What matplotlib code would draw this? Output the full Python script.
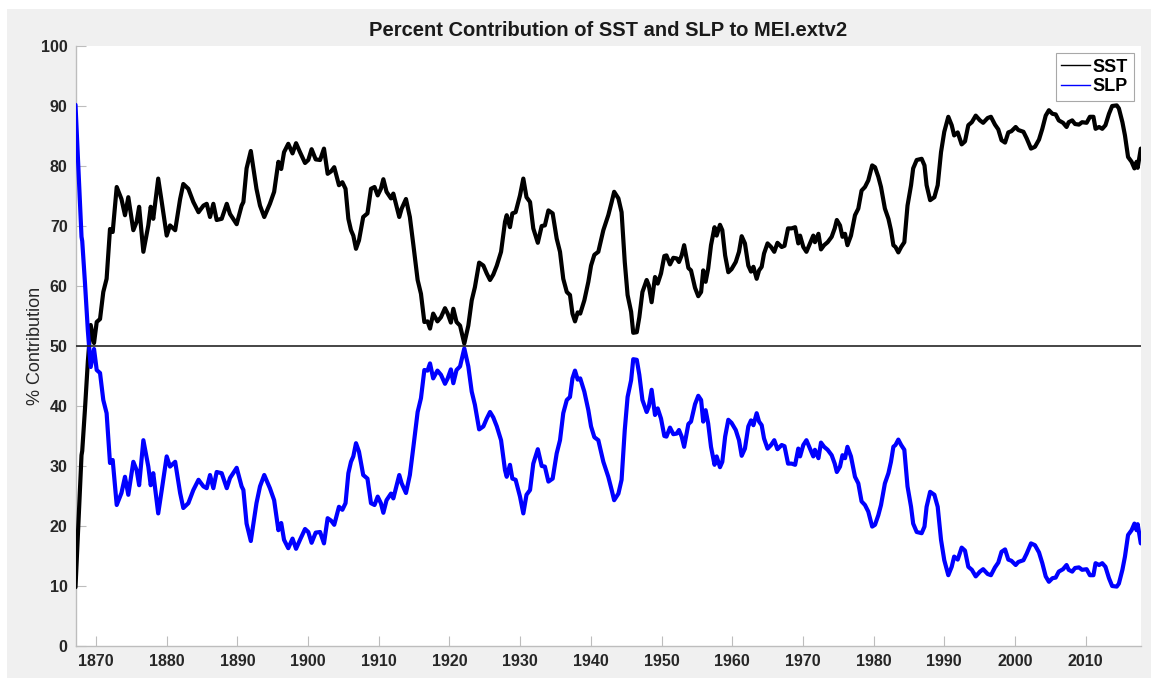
import matplotlib
matplotlib.use('Agg')
import matplotlib.pyplot as plt
from matplotlib.patches import Rectangle
from matplotlib.lines import Line2D

plt.rcParams['font.family'] = ['Liberation Sans', 'DejaVu Sans']

# turning points (year, % contribution)
years = [
    1867.10, 1867.95, 1868.05, 1868.44, 1868.85, 1869.25, 1869.72, 1870.10, 1870.57, 1871.03,
    1871.50, 1871.98, 1872.36, 1872.93, 1873.60, 1874.10, 1874.57, 1875.28, 1875.75, 1876.10,
    1876.70, 1877.40, 1877.74, 1878.10, 1878.80, 1879.30,
    1880.00, 1880.47, 1881.20, 1881.90, 1882.35, 1883.06, 1883.77, 1884.50, 1885.20, 1885.66,
    1886.13, 1886.60, 1887.07, 1887.78, 1888.50, 1888.96, 1889.90,
    1890.60, 1890.85, 1891.30, 1891.90, 1892.70, 1893.20, 1893.80, 1894.60, 1895.20, 1895.80,
    1896.20, 1896.60, 1897.20, 1897.80, 1898.30, 1898.86, 1899.57,
    1900.03, 1900.50, 1901.08, 1901.70, 1902.25, 1902.77, 1903.25, 1903.70, 1904.37, 1904.85,
    1905.30, 1905.70, 1906.07, 1906.40, 1906.78, 1907.20, 1907.80, 1908.40, 1908.90, 1909.40,
    1909.85,
    1910.30, 1910.65, 1911.10, 1911.73, 1912.06, 1912.90, 1913.24, 1913.85, 1914.40, 1914.90,
    1915.50, 1915.97, 1916.45, 1916.90, 1917.25, 1917.70, 1918.30, 1918.80, 1919.37, 1919.75,
    1920.20, 1920.55, 1921.00, 1921.50, 1922.10, 1922.67, 1923.15, 1923.60, 1924.20, 1924.80,
    1925.27, 1925.74, 1926.20, 1926.70, 1927.30, 1927.86, 1928.10, 1928.56, 1928.90, 1929.36,
    1929.98,
    1930.45, 1930.90, 1931.40, 1931.86, 1932.50, 1933.05, 1933.50, 1934.00, 1934.60, 1935.17,
    1935.64, 1936.10, 1936.60, 1937.05, 1937.40, 1937.76, 1938.14, 1938.50, 1939.08, 1939.65,
    1940.03, 1940.50, 1941.06, 1941.77, 1942.47, 1942.95, 1943.30, 1943.90, 1944.35, 1944.80,
    1945.20, 1945.70, 1946.00, 1946.50, 1946.86, 1947.30, 1947.90, 1948.20, 1948.60, 1949.08,
    1949.46, 1949.93,
    1950.40, 1950.70, 1951.20, 1951.67, 1952.14, 1952.47, 1952.85, 1953.20, 1953.80, 1954.17,
    1954.74, 1955.20, 1955.60, 1955.90, 1956.24, 1956.60, 1957.00, 1957.50, 1957.80, 1958.27,
    1958.60, 1959.00, 1959.45, 1959.90,
    1960.50, 1960.96, 1961.34, 1961.80, 1962.28, 1962.66, 1963.00, 1963.46, 1963.80, 1964.17,
    1964.50, 1965.00, 1965.50, 1965.95, 1966.40, 1967.00, 1967.40, 1967.90, 1968.40, 1968.90,
    1969.35, 1969.60,
    1970.06, 1970.50, 1971.00, 1971.47, 1971.70, 1972.20, 1972.56, 1973.00, 1973.50, 1974.07,
    1974.50, 1974.80, 1975.25, 1975.60, 1975.96, 1976.30, 1976.80, 1977.37, 1977.84, 1978.30,
    1978.78, 1979.25, 1979.80,
    1980.20, 1980.67, 1981.05, 1981.60, 1982.10, 1982.46, 1982.80, 1983.10, 1983.50, 1983.90,
    1984.35, 1984.80, 1985.30, 1985.60, 1986.10, 1986.80, 1987.20, 1987.50, 1988.00, 1988.60,
    1989.07, 1989.54,
    1990.00, 1990.57, 1991.05, 1991.40, 1991.90, 1992.46, 1992.93, 1993.40, 1993.90, 1994.45,
    1995.05, 1995.50, 1996.14, 1996.60, 1997.17, 1997.64, 1998.10, 1998.60, 1999.06, 1999.50,
    2000.10, 2000.47, 2001.20, 2001.66, 2002.27, 2002.83, 2003.40, 2003.87, 2004.35, 2004.80,
    2005.30, 2005.76, 2006.20, 2006.80, 2007.30, 2007.60, 2008.10, 2008.50, 2009.05, 2009.50,
    2010.14, 2010.60, 2011.10, 2011.40, 2011.90, 2012.35, 2012.80, 2013.30, 2013.75, 2014.40,
    2014.70, 2015.20, 2015.56, 2016.00, 2016.50, 2016.90, 2017.20, 2017.36, 2017.80,
]

slp = [
    90.2, 68.2, 67.5, 60.5, 52.5, 46.5, 49.5, 46.0, 45.5, 41.0,
    38.8, 30.5, 31.0, 23.5, 25.5, 28.2, 25.2, 30.7, 29.3, 26.8,
    34.3, 29.9, 26.8, 28.8, 22.1, 26.0,
    31.6, 29.9, 30.7, 25.5, 23.0, 23.8, 26.0, 27.7, 26.6, 26.3,
    28.5, 26.3, 29.0, 28.8, 26.3, 28.0, 29.7,
    26.6, 26.0, 20.4, 17.5, 23.8, 26.6, 28.5, 26.3, 24.3, 19.3,
    20.5, 17.7, 16.3, 17.9, 16.2, 17.7, 19.5,
    19.0, 17.2, 18.9, 19.0, 17.1, 21.3, 20.9, 20.2, 23.2, 22.7,
    23.8, 28.8, 30.7, 31.6, 33.8, 32.4, 28.5, 27.9, 23.8, 23.5,
    24.9,
    23.8, 22.2, 24.3, 25.4, 24.6, 28.5, 27.1, 25.5, 28.5, 33.2,
    39.0, 41.3, 46.0, 45.9, 47.1, 44.6, 45.9, 45.2, 43.7, 44.6,
    46.1, 43.8, 46.0, 46.6, 49.6, 46.6, 42.4, 40.2, 36.1, 36.6,
    37.9, 39.0, 38.1, 36.6, 34.3, 29.3, 28.2, 30.2, 27.9, 27.7,
    24.9,
    22.1, 25.2, 26.0, 30.4, 32.8, 30.0, 29.9, 27.4, 27.9, 32.1,
    34.3, 38.8, 41.0, 41.5, 44.6, 45.9, 44.4, 44.6, 42.4, 39.3,
    36.6, 34.8, 34.3, 30.7, 28.2, 26.0, 24.3, 25.4, 27.7, 36.0,
    41.5, 44.3, 47.8, 47.7, 45.2, 41.0, 39.0, 39.9, 42.7, 38.5,
    39.6, 37.9,
    35.0, 34.9, 36.4, 35.3, 35.4, 36.0, 34.9, 33.2, 37.0, 37.4,
    40.3, 41.7, 41.0, 37.4, 39.3, 37.1, 33.2, 30.2, 31.6, 29.8,
    30.7, 34.9, 37.7, 37.2,
    36.0, 34.3, 31.7, 32.9, 36.6, 37.6, 36.8, 38.8, 37.4, 36.8,
    34.6, 32.9, 33.5, 34.3, 32.8, 33.5, 33.3, 30.4, 30.4, 30.2,
    32.9, 31.6,
    33.5, 34.3, 32.9, 31.6, 32.7, 31.3, 33.9, 33.2, 32.7, 31.8,
    30.4, 29.0, 29.9, 31.8, 31.3, 33.2, 31.6, 28.2, 27.1, 24.1,
    23.5, 22.4, 19.9,
    20.2, 21.8, 23.5, 27.1, 28.8, 30.7, 33.2, 33.5, 34.4, 33.5,
    32.7, 26.6, 23.2, 20.4, 19.0, 18.8, 19.9, 23.2, 25.7, 25.2,
    23.2, 17.7,
    14.3, 11.8, 13.2, 14.9, 14.4, 16.4, 15.9, 13.2, 12.7, 11.6,
    12.4, 12.8, 12.0, 11.8, 13.1, 13.9, 15.7, 16.1, 14.4, 14.2,
    13.5, 14.0, 14.3, 15.4, 17.1, 16.8, 15.6, 13.8, 11.6, 10.7,
    11.3, 11.4, 12.4, 12.8, 13.5, 12.7, 12.4, 13.0, 13.1, 12.7,
    12.8, 11.8, 11.8, 13.8, 13.5, 13.8, 13.2, 11.3, 10.0, 9.9,
    10.4, 12.7, 14.9, 18.5, 19.3, 20.4, 19.3, 20.3, 17.1,
]

sst = [
    9.8, 31.8, 32.5, 39.5, 47.5, 53.5, 50.5, 54.0, 54.5, 59.0,
    61.2, 69.5, 69.0, 76.5, 74.5, 71.8, 74.8, 69.3, 70.7, 73.2,
    65.7, 70.1, 73.2, 71.2, 77.9, 74.0,
    68.4, 70.1, 69.3, 74.5, 77.0, 76.2, 74.0, 72.3, 73.4, 73.7,
    71.5, 73.7, 71.0, 71.2, 73.7, 72.0, 70.3,
    73.4, 74.0, 79.6, 82.5, 76.2, 73.4, 71.5, 73.7, 75.7, 80.7,
    79.5, 82.3, 83.7, 82.1, 83.8, 82.3, 80.5,
    81.0, 82.8, 81.1, 81.0, 82.9, 78.7, 79.1, 79.8, 76.8, 77.3,
    76.2, 71.2, 69.3, 68.4, 66.2, 67.6, 71.5, 72.1, 76.2, 76.5,
    75.1,
    76.2, 77.8, 75.7, 74.6, 75.4, 71.5, 72.9, 74.5, 71.5, 66.8,
    61.0, 58.7, 54.0, 54.1, 52.9, 55.4, 54.1, 54.8, 56.3, 55.4,
    53.9, 56.2, 54.0, 53.4, 50.4, 53.4, 57.6, 59.8, 63.9, 63.4,
    62.1, 61.0, 61.9, 63.4, 65.7, 70.7, 71.8, 69.8, 72.1, 72.3,
    75.1,
    77.9, 74.8, 74.0, 69.6, 67.2, 70.0, 70.1, 72.6, 72.1, 67.9,
    65.7, 61.2, 59.0, 58.5, 55.4, 54.1, 55.6, 55.4, 57.6, 60.7,
    63.4, 65.2, 65.7, 69.3, 71.8, 74.0, 75.7, 74.6, 72.3, 64.0,
    58.5, 55.7, 52.2, 52.3, 54.8, 59.0, 61.0, 60.1, 57.3, 61.5,
    60.4, 62.1,
    65.0, 65.1, 63.6, 64.7, 64.6, 64.0, 65.1, 66.8, 63.0, 62.6,
    59.7, 58.3, 59.0, 62.6, 60.7, 62.9, 66.8, 69.8, 68.4, 70.2,
    69.3, 65.1, 62.3, 62.8,
    64.0, 65.7, 68.3, 67.1, 63.4, 62.4, 63.2, 61.2, 62.6, 63.2,
    65.4, 67.1, 66.5, 65.7, 67.2, 66.5, 66.7, 69.6, 69.6, 69.8,
    67.1, 68.4,
    66.5, 65.7, 67.1, 68.4, 67.3, 68.7, 66.1, 66.8, 67.3, 68.2,
    69.6, 71.0, 70.1, 68.2, 68.7, 66.8, 68.4, 71.8, 72.9, 75.9,
    76.5, 77.6, 80.1,
    79.8, 78.2, 76.5, 72.9, 71.2, 69.3, 66.8, 66.5, 65.6, 66.5,
    67.3, 73.4, 76.8, 79.6, 81.0, 81.2, 80.1, 76.8, 74.3, 74.8,
    76.8, 82.3,
    85.7, 88.2, 86.8, 85.1, 85.6, 83.6, 84.1, 86.8, 87.3, 88.4,
    87.6, 87.2, 88.0, 88.2, 86.9, 86.1, 84.3, 83.9, 85.6, 85.8,
    86.5, 86.0, 85.7, 84.6, 82.9, 83.2, 84.4, 86.2, 88.4, 89.3,
    88.7, 88.6, 87.6, 87.2, 86.5, 87.3, 87.6, 87.0, 86.9, 87.3,
    87.2, 88.2, 88.2, 86.2, 86.5, 86.2, 86.8, 88.7, 90.0, 90.1,
    89.6, 87.3, 85.1, 81.5, 80.7, 79.6, 80.7, 79.7, 82.9,
]

xticks = [1870, 1880, 1890, 1900, 1910, 1920, 1930, 1940, 1950, 1960, 1970, 1980, 1990, 2000, 2010]
yticks = [0, 10, 20, 30, 40, 50, 60, 70, 80, 90, 100]

W, H = 1151, 678
fig = plt.figure(figsize=(W / 100, H / 100), dpi=100, facecolor='white')
# MATLAB-style grey figure area (screenshot has a thin white strip top/left)
fig.patches.append(Rectangle((7 / W, 0), 1 - 7 / W, (H - 9) / H, transform=fig.transFigure,
                             facecolor='#f0f0f0', edgecolor='none', zorder=-10))

ax = fig.add_axes([76 / W, (H - 646) / H, (1141 - 76) / W, (646 - 46) / H])
ax.set_facecolor('white')

ax.plot(years, sst, color='black', lw=3.0, solid_joinstyle='round', solid_capstyle='round', zorder=3)
ax.plot(years, slp, color='blue', lw=3.0, solid_joinstyle='round', solid_capstyle='round', zorder=3)
ax.axhline(50, color='#262626', lw=1.2, zorder=4)

ax.set_xlim(1867.17, 2017.83)
ax.set_ylim(0, 100)
ax.set_xticks(xticks)
ax.set_yticks(yticks)

for s in ['top', 'right']:
    ax.spines[s].set_visible(False)
for s in ['left', 'bottom']:
    ax.spines[s].set_color('#bdbdbd')
    ax.spines[s].set_linewidth(1.0)

ax.tick_params(direction='in', length=7, width=0.8, color='#bdbdbd',
               labelsize=11.5, labelcolor='#262626', pad=6)
for lab in ax.get_xticklabels() + ax.get_yticklabels():
    lab.set_fontweight('bold')

ax.set_ylabel('% Contribution', fontsize=13, color='#262626', labelpad=-2)
ax.set_title('Percent Contribution of SST and SLP to MEI.extv2', fontsize=14.5,
             fontweight='bold', color='#1a1a1a', pad=7)

handles = [Line2D([], [], color='black', lw=1.0), Line2D([], [], color='blue', lw=1.0)]
leg = ax.legend(handles, ['SST', 'SLP'], loc='upper right', bbox_to_anchor=(0.993, 0.988),
                borderaxespad=0, fancybox=False, framealpha=1, edgecolor='#a8a8a8',
                handlelength=1.6, handletextpad=0.15, borderpad=0.3, labelspacing=0.15,
                prop={'weight': 'bold', 'size': 13})
leg.get_frame().set_linewidth(0.8)

fig.savefig('out.png', dpi=100, facecolor=fig.get_facecolor())
